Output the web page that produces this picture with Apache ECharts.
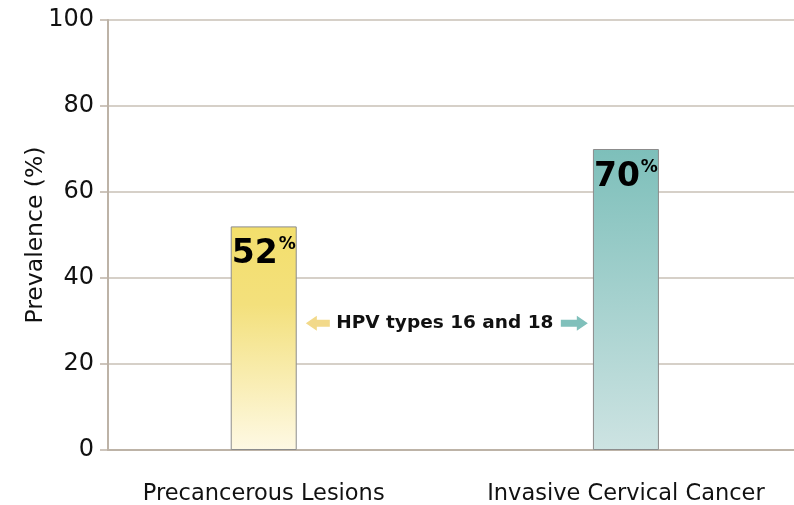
<!DOCTYPE html>
<html>
<head>
<meta charset="utf-8">
<script src="https://cdn.jsdelivr.net/npm/echarts@6/dist/echarts.min.js"></script>
<style>
  html, body { margin: 0; padding: 0; background: #fff; }
  #main { width: 794px; height: 505px; }
</style>
</head>
<body>
<div id="main"></div>
<script>
// data
var categories = ["Precancerous Lesions", "Invasive Cervical Cancer"];
var catPos = [22.7, 75.5];          // where each group sits along the x scale (0-100)
var prevalence = [52, 70];
var yTicks = [0, 20, 40, 60, 80, 100];
var noteText = "HPV types 16 and 18";
var noteValue = 29.5;               // height of the note, in % units

var FONT = "DejaVu Sans";
var axisColor = "#bdb3a7";

var gradients = [
  new echarts.graphic.LinearGradient(0, 0, 0, 1, [
    { offset: 0, color: "#f3df6c" },
    { offset: 0.35, color: "#f3e07c" },
    { offset: 1, color: "#fef9e4" }
  ]),
  new echarts.graphic.LinearGradient(0, 0, 0, 1, [
    { offset: 0, color: "#7dbfba" },
    { offset: 1, color: "#cde3e2" }
  ])
];

var chart = echarts.init(document.getElementById("main"));

chart.setOption({
  animation: false,
  grid: { left: 108, right: 0, top: 20, bottom: 55, containLabel: false, outerBoundsMode: "none" },
  xAxis: {
    type: "value",
    min: 0,
    max: 100,
    splitLine: { show: false },
    axisTick: { show: false },
    axisLine: { show: true, lineStyle: { color: axisColor, width: 2 } },
    axisLabel: {
      customValues: catPos,
      formatter: function (v) {
        var i = catPos.indexOf(v);
        return i >= 0 ? categories[i] : "";
      },
      margin: 33,
      fontFamily: FONT,
      fontSize: 22.5,
      color: "#111"
    }
  },
  yAxis: {
    type: "value",
    min: yTicks[0],
    max: yTicks[yTicks.length - 1],
    interval: 20,
    name: "Prevalence (%)",
    nameLocation: "middle",
    nameGap: 60,
    nameMoveOverlap: false,
    nameTextStyle: { fontFamily: FONT, fontSize: 23.5, color: "#111" },
    axisLine: { show: true, lineStyle: { color: axisColor, width: 2 } },
    axisTick: { show: true, length: 8, lineStyle: { color: axisColor, width: 1.5 } },
    axisLabel: { fontFamily: FONT, fontSize: 24, color: "#111", margin: 14 },
    splitLine: { lineStyle: { color: "#c9c0b6", width: 1.5 } }
  },
  series: [{
    type: "bar",
    barWidth: 66,
    data: prevalence.map(function (v, i) {
      return {
        value: [catPos[i], v],
        itemStyle: { color: gradients[i], borderColor: "#8c8c8c", borderWidth: 1 }
      };
    }),
    label: {
      show: true,
      position: "insideTop",
      distance: 10,
      formatter: function (p) { return "{n|" + p.value[1] + "}{p|%}"; },
      rich: {
        n: { fontFamily: FONT, fontWeight: "bold", fontSize: 33, color: "#000", lineHeight: 36 },
        p: { fontFamily: FONT, fontWeight: "bold", fontSize: 17, color: "#000", verticalAlign: "top", lineHeight: 36, padding: [0, 0, 14, 1] }
      }
    }
  }]
});

// annotation between the bars, placed through the chart's scales
var mid = chart.convertToPixel({ gridIndex: 0 }, [(catPos[0] + catPos[1]) / 2, noteValue]);
chart.setOption({
  graphic: [{
    type: "group",
    x: mid[0],
    y: mid[1],
    children: [
      { type: "text", style: { text: noteText, x: 0, y: 0, align: "center", verticalAlign: "middle",
        font: "bold 18.5px " + FONT, fill: "#111" } },
      { type: "polygon", shape: { points: [[-139, 0], [-128, -7.5], [-128, -3.5], [-115, -3.5], [-115, 3.5], [-128, 3.5], [-128, 7.5]] },
        style: { fill: "#f2d98a" } },
      { type: "polygon", shape: { points: [[143, 0], [132, -7.5], [132, -3.5], [116, -3.5], [116, 3.5], [132, 3.5], [132, 7.5]] },
        style: { fill: "#80c0bb" } }
    ]
  }]
});
</script>
</body>
</html>
